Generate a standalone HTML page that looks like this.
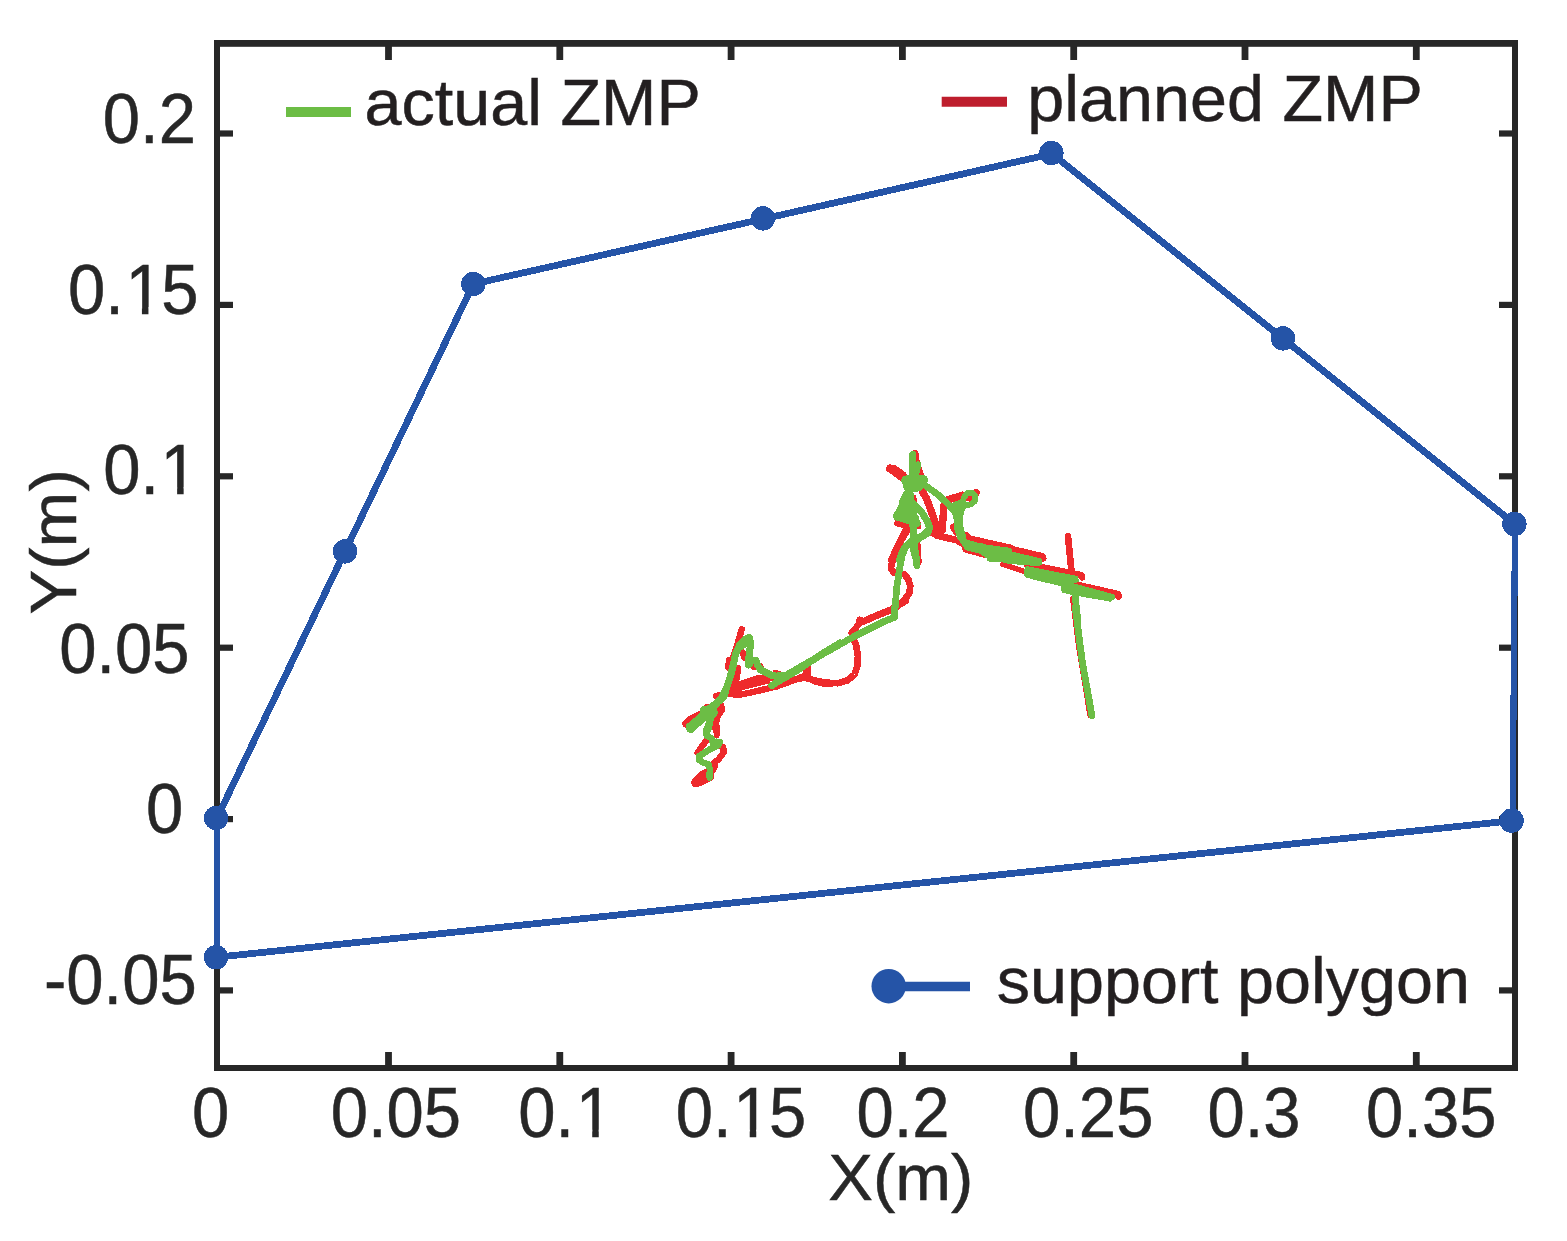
<!DOCTYPE html>
<html lang="en"><head><meta charset="utf-8"><title>ZMP trajectory within support polygon</title>
<style>html,body{margin:0;padding:0;background:#fff;}body{width:1567px;height:1241px;overflow:hidden;}svg{display:block;}text{font-family:"Liberation Sans",sans-serif;fill:#231f20;stroke:#231f20;stroke-width:0.5px;}text.ax{fill:#272727;stroke:#272727;}</style></head><body>
<svg width="1567" height="1241" viewBox="0 0 1567 1241">
<rect width="1567" height="1241" fill="#fff"/>
<g fill="none" stroke-linecap="round" stroke-linejoin="round" shape-rendering="crispEdges">
<polyline points="695.9,782.4 702.4,775.6 709.7,772.2" stroke="#ee2a2c" stroke-width="9.4" />
<polyline points="695.3,783.6 700.0,782.4 710.6,777.0" stroke="#ee2a2c" stroke-width="7.4" />
<polyline points="712.6,770.3 715.0,766.4 713.0,763.5 718.4,759.6 723.7,752.4 723.2,747.1 720.3,746.1" stroke="#ee2a2c" stroke-width="6.4" />
<polyline points="697.6,752.9 702.9,745.1 708.2,738.4" stroke="#ee2a2c" stroke-width="6.4" />
<polyline points="715.5,719.0 717.4,728.7 716.9,735.5" stroke="#ee2a2c" stroke-width="5.4" />
<polyline points="719.3,707.4 720.3,710.8 717.9,715.1 716.2,719.0" stroke="#ee2a2c" stroke-width="6.4" />
<polyline points="686.2,723.8 690.3,720.0 700.9,714.7" stroke="#ee2a2c" stroke-width="7.9" />
<polyline points="706.8,706.4 710.6,707.4" stroke="#ee2a2c" stroke-width="5.4" />
<polyline points="716.4,695.8 720.3,696.8" stroke="#ee2a2c" stroke-width="5.4" />
<polyline points="741.7,629.3 739.3,638.0 735.5,650.6 731.6,662.2 728.7,668.0" stroke="#ee2a2c" stroke-width="6.4" />
<polyline points="729.7,660.3 728.7,666.1" stroke="#ee2a2c" stroke-width="7.4" />
<polyline points="742.7,652.6 744.2,657.4" stroke="#ee2a2c" stroke-width="6.4" />
<polyline points="752.9,665.6 753.8,667.5" stroke="#ee2a2c" stroke-width="5.4" />
<polyline points="761.1,665.6 763.5,671.9" stroke="#ee2a2c" stroke-width="4.4" />
<polyline points="775.1,671.9 779.0,672.9" stroke="#ee2a2c" stroke-width="4.4" />
<polyline points="737.9,668.0 736.9,677.7 733.0,687.4 729.7,693.2" stroke="#ee2a2c" stroke-width="6.4" />
<polyline points="735.5,685.9 757.7,678.2 774.1,677.7" stroke="#ee2a2c" stroke-width="6.4" />
<polyline points="730.6,691.2 744.2,686.4 767.4,680.6" stroke="#ee2a2c" stroke-width="6.4" />
<polyline points="728.7,694.1 740.3,694.6 750.0,692.7 777.0,686.4 796.4,679.1 805.1,675.8" stroke="#ee2a2c" stroke-width="6.4" />
<polyline points="807.5,668.0 807.0,676.7" stroke="#ee2a2c" stroke-width="7.4" />
<polyline points="804.1,676.7 815.7,681.6 825.4,684.0 840.0,682.7" stroke="#ee2a2c" stroke-width="6.4" />
<polyline points="716.1,696.1 720.0,695.1" stroke="#ee2a2c" stroke-width="6.4" />
<polyline points="720.9,705.7 721.9,709.6 717.1,716.4 715.6,724.1 715.9,729.9" stroke="#ee2a2c" stroke-width="6.9" />
<polyline points="690.0,721.2 699.7,715.4" stroke="#ee2a2c" stroke-width="7.4" />
<polyline points="780.0,685.1 794.5,679.8 804.2,677.4 813.8,680.3 825.5,682.7 838.0,683.2 847.7,680.3 854.5,674.5 857.4,665.8 857.9,656.1 856.4,646.4 854.0,639.7" stroke="#ee2a2c" stroke-width="6.7" />
<polyline points="807.6,667.7 806.1,677.4" stroke="#ee2a2c" stroke-width="7.4" />
<polyline points="851.6,632.9 856.4,627.1 860.3,621.8" stroke="#ee2a2c" stroke-width="6.4" />
<polyline points="859.8,620.1 863.4,621.5 876.7,615.5 891.2,609.7 905.7,600.8" stroke="#ee2a2c" stroke-width="7.0" />
<polyline points="897.7,606.4 905.4,598.7 909.3,592.9 910.3,586.1 908.3,579.3 904.0,574.0" stroke="#ee2a2c" stroke-width="6.7" />
<polyline points="893.8,572.6 890.9,568.7 891.9,562.9 895.8,552.2 901.6,539.7 907.4,530.0" stroke="#ee2a2c" stroke-width="6.7" />
<polyline points="917.5,544.5 919.0,553.2 919.5,562.9" stroke="#ee2a2c" stroke-width="4.4" />
<polyline points="915.3,453.1 916.9,464.2 920.4,473.8 921.9,476.8" stroke="#ee2a2c" stroke-width="6.4" />
<polyline points="890.0,468.5 905.5,479.7" stroke="#ee2a2c" stroke-width="7.9" />
<polyline points="893.4,469.0 902.6,475.3" stroke="#ee2a2c" stroke-width="8.4" />
<polyline points="913.7,497.1 914.2,501.9" stroke="#ee2a2c" stroke-width="5.4" />
<polyline points="922.9,492.2 926.7,499.0 933.5,517.4 937.9,530.4" stroke="#ee2a2c" stroke-width="7.4" />
<polyline points="942.2,530.4 943.2,515.4 944.1,504.8 947.0,500.0 956.7,497.1 962.5,495.1 970.3,498.0 976.1,492.7" stroke="#ee2a2c" stroke-width="7.4" />
<polyline points="932.5,532.8 937.4,535.7 956.7,540.1 964.4,544.4 965.9,549.3 985.7,554.6" stroke="#ee2a2c" stroke-width="6.9" />
<polyline points="953.3,527.0 956.7,532.8 966.4,535.3 969.3,538.6 985.7,542.5 1010.0,547.8" stroke="#ee2a2c" stroke-width="6.9" />
<polyline points="897.2,523.2 902.6,524.6 906.4,522.2" stroke="#ee2a2c" stroke-width="6.4" />
<polyline points="908.4,525.1 902.6,536.7 896.8,548.3 891.9,559.9" stroke="#ee2a2c" stroke-width="7.4" />
<polyline points="918.5,522.2 918.8,527.0" stroke="#ee2a2c" stroke-width="4.4" />
<polyline points="918.5,544.4 919.2,559.9" stroke="#ee2a2c" stroke-width="4.4" />
<polyline points="980.0,542.1 1009.0,548.4 1042.9,556.3 1043.3,558.5" stroke="#ee2a2c" stroke-width="6.4" />
<polyline points="980.0,553.2 986.8,554.6" stroke="#ee2a2c" stroke-width="5.4" />
<polyline points="1002.7,564.3 1024.5,571.6" stroke="#ee2a2c" stroke-width="5.4" />
<polyline points="1026.9,564.3 1081.5,575.0 1082.0,577.4" stroke="#ee2a2c" stroke-width="6.4" />
<polyline points="1072.4,583.7 1118.3,594.0 1118.5,596.5" stroke="#ee2a2c" stroke-width="6.4" />
<polyline points="1068.0,536.3 1069.2,548.4 1071.6,572.5" stroke="#ee2a2c" stroke-width="6.7" />
<polyline points="1073.3,598.9 1079.1,645.7 1085.5,684.3 1090.4,715.0" stroke="#ee2a2c" stroke-width="6.4" />
<polyline points="709.7,777.5 709.8,769.3 708.7,764.5 702.9,762.5 699.0,759.6 699.0,756.2 708.7,750.0 718.4,745.1 719.8,742.2 716.4,741.7 712.6,742.2 711.6,738.4 706.8,735.5 706.0,730.6 708.7,723.8 710.6,714.2" stroke="#6cbd45" stroke-width="6.5" />
<polyline points="708.7,712.2 699.0,720.9 690.8,728.7" stroke="#6cbd45" stroke-width="8.8" />
<polyline points="704.8,711.8 710.6,707.4 718.4,701.6 724.2,695.8 725.9,690.0" stroke="#6cbd45" stroke-width="7.1" />
<polyline points="690.0,727.0 701.6,717.4 710.3,710.6" stroke="#6cbd45" stroke-width="8.8" />
<polyline points="707.9,729.9 710.3,719.3 714.2,706.7 721.9,697.0 726.8,687.4 730.6,675.8 733.5,664.2 735.5,654.5 739.3,645.8 745.1,639.5 749.2,637.6 750.7,642.9 749.8,650.6 748.7,658.4 748.5,665.1 751.9,660.8 755.8,660.3 757.7,665.1 760.6,670.0 766.4,672.9 773.2,675.8 780.9,676.7 788.6,674.8 796.4,670.9" stroke="#6cbd45" stroke-width="7.1" />
<polyline points="771.7,685.6 780.9,679.8 796.4,670.9 810.9,661.3 825.4,651.8 840.0,643.1" stroke="#6cbd45" stroke-width="7.1" />
<polyline points="704.5,710.6 713.2,712.5" stroke="#6cbd45" stroke-width="9.3" />
<polyline points="740.3,645.8 748.0,639.5" stroke="#6cbd45" stroke-width="9.3" />
<polyline points="780.0,678.8 809.0,661.9 853.5,636.8 884.4,621.3 894.6,617.4 895.1,600.0" stroke="#6cbd45" stroke-width="6.8" />
<polyline points="780.0,675.4 785.8,676.4" stroke="#6cbd45" stroke-width="7.3" />
<polyline points="894.8,617.0 895.0,609.3 896.7,588.0 899.6,568.7 902.1,555.1 906.4,545.5 913.2,539.7 922.8,535.8 928.6,530.0" stroke="#6cbd45" stroke-width="6.8" />
<polyline points="913.2,530.0 914.1,544.5 916.1,557.1 917.0,565.3" stroke="#6cbd45" stroke-width="7.1" />
<polyline points="912.7,454.5 912.2,469.0 912.7,478.7" stroke="#6cbd45" stroke-width="7.1" />
<polyline points="918.0,464.7 916.1,472.9" stroke="#6cbd45" stroke-width="6.8" />
<polyline points="906.4,480.6 914.2,479.7 922.9,480.1" stroke="#6cbd45" stroke-width="10.3" />
<polyline points="908.4,486.4 918.0,486.4" stroke="#6cbd45" stroke-width="10.3" />
<polyline points="923.8,484.5 937.4,494.2 947.0,502.9 954.8,511.6 957.7,519.3 957.9,527.0 960.6,535.7 965.4,544.4 969.3,547.8 976.1,546.4" stroke="#6cbd45" stroke-width="6.8" />
<polyline points="950.9,506.7 962.5,501.9" stroke="#6cbd45" stroke-width="6.3" />
<polyline points="962.5,502.9 964.0,497.1 967.4,493.2 972.2,492.7 975.1,496.1 975.1,500.9 971.2,504.3 965.4,505.3 962.5,507.7 960.6,513.5 958.2,520.3" stroke="#6cbd45" stroke-width="5.8999999999999995" />
<polyline points="912.2,502.9 921.9,512.5 927.7,522.2 929.6,528.0 927.7,532.8 921.9,536.7 917.1,539.6 911.3,542.5 905.5,546.4 901.6,554.1 899.7,559.9" stroke="#6cbd45" stroke-width="7.1" />
<polyline points="912.7,522.2 913.7,536.7 912.2,544.4 914.2,552.2 916.3,559.9" stroke="#6cbd45" stroke-width="7.1" />
<polyline points="916.1,517.4 918.0,524.1" stroke="#6cbd45" stroke-width="5.3" />
<polyline points="1074.8,592.8 1077.7,619.9" stroke="#6cbd45" stroke-width="6.8" />
<polyline points="1075.2,607.0 1082.3,661.8 1092.0,715.9" stroke="#6cbd45" stroke-width="6.8" />
<polyline points="960.1,509.6 958.1,517.4 958.5,527.0 961.5,536.7" stroke="#6cbd45" stroke-width="9.3" />
<polyline points="968.3,545.4 980.9,548.8 990.6,551.2" stroke="#6cbd45" stroke-width="10.3" />
<polygon points="906.4,490.3 912.7,494.2 912.7,503.8 918.0,522.2 910.3,523.2 901.6,520.3 895.3,518.8 894.3,515.4 899.7,506.7 900.6,500.9" fill="#6cbd45" stroke="#6cbd45" stroke-width="3"/>
<polygon points="980.0,544.0 990.6,547.9 1040.9,560.0 1040.4,563.8 1038.0,564.6 1009.0,562.4 988.2,557.5 980.0,552.2" fill="#6cbd45" stroke="#6cbd45" stroke-width="3"/>
<polygon points="1025.0,572.1 1026.9,567.7 1076.7,577.4 1077.2,580.8 1069.0,583.4 1062.2,584.9 1034.2,578.3 1025.9,575.9" fill="#6cbd45" stroke="#6cbd45" stroke-width="3"/>
<polygon points="1062.2,587.5 1069.9,583.9 1113.5,595.7 1113.9,597.7 1110.1,600.1 1076.7,594.3 1063.2,591.4" fill="#6cbd45" stroke="#6cbd45" stroke-width="3"/>
<polygon points="987.7,554.1 980.9,545.4 1010.0,549.3 1010.0,560.0 988.6,560.0" fill="#6cbd45" stroke="#6cbd45" stroke-width="3"/>
</g>
<g fill="#272727"><rect x="214" y="40" width="1304" height="6.8"/><rect x="214" y="1065" width="1304" height="6"/><rect x="214" y="40" width="6" height="1031"/><rect x="1512" y="40" width="6" height="1031"/></g>
<g fill="#272727"><rect x="385.1" y="1052" width="6.8" height="14"/><rect x="385.1" y="46" width="6.8" height="14"/><rect x="556.4" y="1052" width="6.8" height="14"/><rect x="556.4" y="46" width="6.8" height="14"/><rect x="727.7" y="1052" width="6.8" height="14"/><rect x="727.7" y="46" width="6.8" height="14"/><rect x="899.0" y="1052" width="6.8" height="14"/><rect x="899.0" y="46" width="6.8" height="14"/><rect x="1070.3" y="1052" width="6.8" height="14"/><rect x="1070.3" y="46" width="6.8" height="14"/><rect x="1241.6" y="1052" width="6.8" height="14"/><rect x="1241.6" y="46" width="6.8" height="14"/><rect x="1412.9" y="1052" width="6.8" height="14"/><rect x="1412.9" y="46" width="6.8" height="14"/><rect x="219" y="130.4" width="14" height="6.2"/><rect x="1499" y="130.4" width="14" height="6.2"/><rect x="219" y="301.8" width="14" height="6.2"/><rect x="1499" y="301.8" width="14" height="6.2"/><rect x="219" y="473.2" width="14" height="6.2"/><rect x="1499" y="473.2" width="14" height="6.2"/><rect x="219" y="644.6" width="14" height="6.2"/><rect x="1499" y="644.6" width="14" height="6.2"/><rect x="219" y="816.0" width="14" height="6.2"/><rect x="1499" y="816.0" width="14" height="6.2"/><rect x="219" y="987.3" width="14" height="6.2"/><rect x="1499" y="987.3" width="14" height="6.2"/></g>
<g stroke="#2554a7" stroke-linecap="round" shape-rendering="crispEdges"><line x1="217.0" y1="818.0" x2="345.0" y2="551.4" stroke-width="6.8"/><line x1="345.0" y1="551.4" x2="473.3" y2="284.0" stroke-width="6.8"/><line x1="473.3" y1="284.0" x2="762.9" y2="219.0" stroke-width="6.8"/><line x1="762.9" y1="219.0" x2="1051.4" y2="154.0" stroke-width="6.8"/><line x1="1051.4" y1="153.3" x2="1283.0" y2="338.6" stroke-width="6.8"/><line x1="1283.0" y1="338.6" x2="1514.8" y2="524.0" stroke-width="6.8"/><line x1="1515.0" y1="524.0" x2="1512.6" y2="820.6" stroke-width="6.2"/><line x1="1511.6" y1="820.8" x2="217.0" y2="957.2" stroke-width="6.8"/><line x1="217.0" y1="957.2" x2="217.0" y2="818.0" stroke-width="6.0"/></g>
<g fill="#2554a7" shape-rendering="crispEdges"><circle cx="216.1" cy="818.0" r="12.2"/><circle cx="345.0" cy="551.4" r="12.2"/><circle cx="473.3" cy="284.0" r="12.2"/><circle cx="762.9" cy="218.4" r="12.2"/><circle cx="1051.4" cy="153.0" r="12.2"/><circle cx="1283.0" cy="338.4" r="12.2"/><circle cx="1514.4" cy="524.0" r="12.2"/><circle cx="1511.6" cy="820.6" r="12.2"/><circle cx="216.0" cy="957.2" r="12.2"/></g>
<line x1="286" y1="111.9" x2="351" y2="111.9" stroke="#6cbd45" stroke-width="10"/>
<line x1="941.7" y1="101.7" x2="1007" y2="101.7" stroke="#be1e2d" stroke-width="10"/>
<line x1="889" y1="986.4" x2="970" y2="986.4" stroke="#2554a7" stroke-width="9.5"/>
<circle cx="888.7" cy="986.2" r="17.2" fill="#2554a7"/>
<text id="lg1" transform="translate(364.5,124.7) scale(1,0.980)" font-size="66.5">actual ZMP</text>
<text id="lg2" transform="translate(1027.3,121.2) scale(1,0.980)" font-size="66.5">planned ZMP</text>
<text id="lg3" transform="translate(996.8,1002.9) scale(1,0.980)" font-size="66.5">support polygon</text>
<text id="y1" class="ax" transform="translate(102.8,143.4) scale(1,1.045)" font-size="67.0">0.2</text>
<text id="y2" class="ax" transform="translate(68.0,314.0) scale(1,1.045)" font-size="67.0" dx="0 0 1.5 -1.5">0.15</text>
<text id="y3" class="ax" transform="translate(103.2,494.0) scale(1,1.045)" font-size="67.0" dx="0 0 1.5">0.1</text>
<text id="y4" class="ax" transform="translate(59.2,673.0) scale(1,1.045)" font-size="67.0">0.05</text>
<text id="y5" class="ax" transform="translate(146.0,833.0) scale(1,1.045)" font-size="67.0">0</text>
<text id="y6" class="ax" transform="translate(44.0,1003.5) scale(1,1.045)" font-size="67.0">-0.05</text>
<text id="x1" class="ax" transform="translate(192.0,1136.5) scale(1,1.045)" font-size="67.0">0</text>
<text id="x2" class="ax" transform="translate(330.7,1136.5) scale(1,1.045)" font-size="67.0">0.05</text>
<text id="x3" class="ax" transform="translate(518.3,1136.5) scale(1,1.045)" font-size="67.0" dx="0 0 1.5">0.1</text>
<text id="x4" class="ax" transform="translate(675.8,1136.5) scale(1,1.045)" font-size="67.0" dx="0 0 1.5 -1.5">0.15</text>
<text id="x5" class="ax" transform="translate(856.5,1136.5) scale(1,1.045)" font-size="67.0">0.2</text>
<text id="x6" class="ax" transform="translate(1023.0,1136.5) scale(1,1.045)" font-size="67.0">0.25</text>
<text id="x7" class="ax" transform="translate(1207.5,1136.5) scale(1,1.045)" font-size="67.0">0.3</text>
<text id="x8" class="ax" transform="translate(1366.1,1136.5) scale(1,1.045)" font-size="67.0">0.35</text>
<text id="xl" class="ax" transform="translate(828.2,1199.8) scale(1,0.980)" font-size="67.0">X(m)</text>
<g fill="#fff"><rect x="128.98" y="307.17" width="12.94" height="8.43"/><rect x="148.45" y="307.17" width="12.72" height="8.43"/><rect x="164.18" y="487.17" width="12.94" height="8.43"/><rect x="183.65" y="487.17" width="12.72" height="8.43"/><rect x="579.28" y="1129.67" width="12.94" height="8.43"/><rect x="598.75" y="1129.67" width="12.72" height="8.43"/><rect x="736.78" y="1129.67" width="12.94" height="8.43"/><rect x="756.25" y="1129.67" width="12.72" height="8.43"/></g>
<text id="yl" class="ax" transform="translate(76.0,614.4) rotate(-90) scale(1,0.980)" font-size="67.0">Y(m)</text>
</svg></body></html>
